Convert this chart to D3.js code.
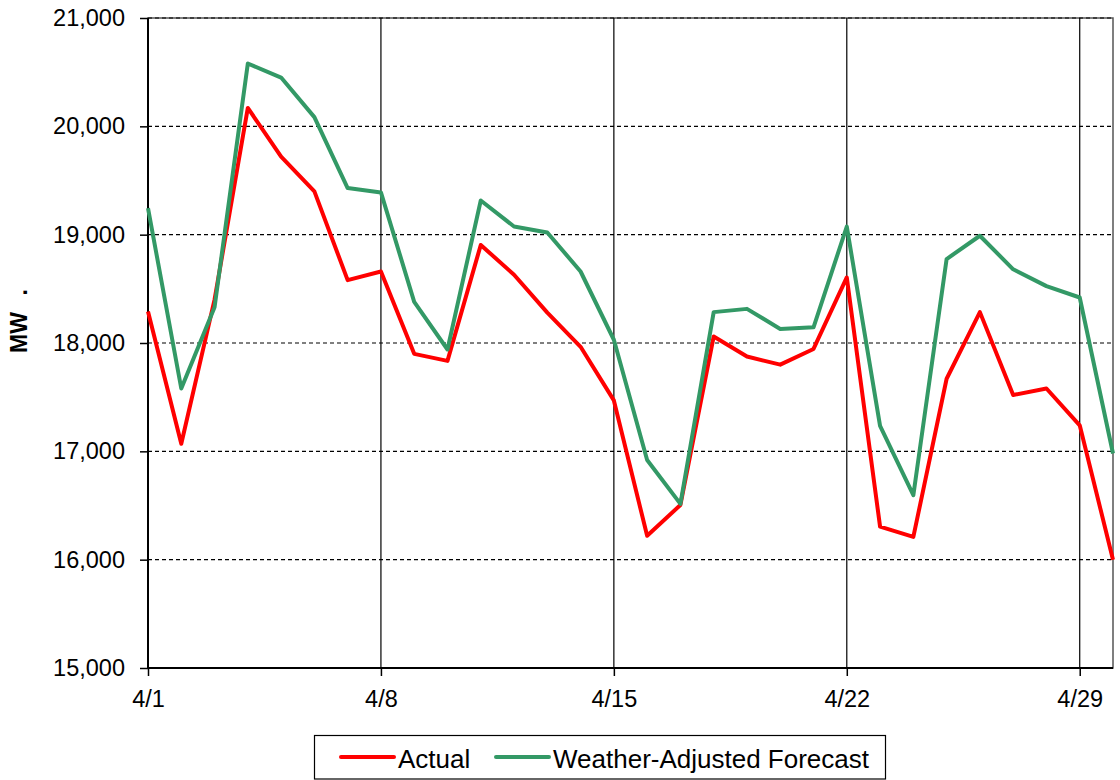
<!DOCTYPE html>
<html>
<head>
<meta charset="utf-8">
<script src="https://cdn.jsdelivr.net/npm/d3@7"></script>
<style>
  body { margin: 0; background: #fff; }
  text { font-family: "Liberation Sans", Arial, sans-serif; fill: #000; }
</style>
</head>
<body>
<svg id="chart" width="1120" height="780"></svg>
<script>
// April, one value per day
const days = ["4/1","4/2","4/3","4/4","4/5","4/6","4/7","4/8","4/9","4/10",
  "4/11","4/12","4/13","4/14","4/15","4/16","4/17","4/18","4/19","4/20",
  "4/21","4/22","4/23","4/24","4/25","4/26","4/27","4/28","4/29","4/30"];

const actual = [18290, 17070, 18400, 20170, 19720, 19400, 18580, 18660, 17900, 17835,
  18905, 18630, 18280, 17965, 17470, 16220, 16505, 18060, 17875, 17800,
  17945, 18605, 16305, 16210, 17670, 18285, 17520, 17580, 17240, 16000];

const forecast = [19245, 17580, 18330, 20580, 20450, 20085, 19430, 19390, 18380, 17940,
  19315, 19075, 19020, 18660, 18030, 16920, 16515, 18285, 18315, 18130,
  18145, 19075, 17235, 16595, 18775, 18990, 18680, 18525, 18420, 16980];

const xTickDays = ["4/1", "4/8", "4/15", "4/22", "4/29"];
const yTicks = [15000, 16000, 17000, 18000, 19000, 20000, 21000];

const series = [
  {name: "Actual", values: actual, color: "#ff0000"},
  {name: "Weather-Adjusted Forecast", values: forecast, color: "#339966"}
];

const margin = {left: 148, right: 7, top: 18, bottom: 112};
const width = 1120 - margin.left - margin.right;
const height = 780 - margin.top - margin.bottom;

const svg = d3.select("#chart");
const g = svg.append("g")
    .attr("transform", "translate(" + margin.left + "," + margin.top + ")");

const x = d3.scaleLinear()
    .domain([0, days.length - 1])
    .range([0, width]);

const y = d3.scaleLinear()
    .domain([15000, 21000])
    .range([height, 0]);

const xTickIdx = xTickDays.map(d => days.indexOf(d));

// plot frame
g.append("rect")
    .attr("width", width)
    .attr("height", height)
    .attr("fill", "none")
    .attr("stroke", "#555")
    .attr("stroke-width", 1.5);

// vertical grid (solid)
g.append("g")
    .selectAll("line")
    .data(xTickIdx.slice(1))
    .join("line")
    .attr("x1", d => x(d)).attr("x2", d => x(d))
    .attr("y1", 0).attr("y2", height)
    .attr("stroke", "#000")
    .attr("stroke-width", 1.2);

// horizontal grid (dashed)
g.append("g")
    .selectAll("line")
    .data(yTicks.slice(1))
    .join("line")
    .attr("x1", 0).attr("x2", width)
    .attr("y1", d => y(d)).attr("y2", d => y(d))
    .attr("stroke", "#000")
    .attr("stroke-width", 1.2)
    .attr("stroke-dasharray", "4,3");

// axes
const yAxis = d3.axisLeft(y)
    .tickValues(yTicks)
    .tickFormat(d3.format(","))
    .tickSize(8)
    .tickPadding(15);

const xAxis = d3.axisBottom(x)
    .tickValues(xTickIdx)
    .tickFormat(i => days[i])
    .tickSize(8)
    .tickPadding(14);

const ya = g.append("g").call(yAxis);
const xa = g.append("g").attr("transform", "translate(0," + height + ")").call(xAxis);

[ya, xa].forEach(a => {
  a.select(".domain").attr("stroke", "#000").attr("stroke-width", 2);
  a.selectAll(".tick line").attr("stroke", "#000").attr("stroke-width", 1.5);
  a.selectAll(".tick text")
      .style("font-family", "'Liberation Sans', Arial, sans-serif")
      .style("font-size", "23.5px")
      .attr("fill", "#000");
});
xa.select(".domain").attr("d", "M0,0H" + width);
ya.select(".domain").attr("d", "M0,0V" + height);

// lines
const line = d3.line()
    .x((d, i) => x(i))
    .y(d => y(d));

g.append("g")
    .selectAll("path")
    .data(series)
    .join("path")
    .attr("d", d => line(d.values))
    .attr("fill", "none")
    .attr("stroke", d => d.color)
    .attr("stroke-width", 4)
    .attr("stroke-linejoin", "round");

// y-axis title
const yt = svg.append("text")
    .attr("transform", "translate(27,353) rotate(-90)")
    .style("font-size", "23px")
    .style("font-weight", "bold");
yt.append("tspan").text("MW");
yt.append("tspan").attr("dx", 18).text(".");

// legend
const legend = svg.append("g");
legend.append("rect")
    .attr("x", 314.5).attr("y", 735.5)
    .attr("width", 571).attr("height", 43.5)
    .attr("fill", "#fff")
    .attr("stroke", "#000")
    .attr("stroke-width", 1.2);

const legendX = [341, 496];
const item = legend.selectAll("g.item")
    .data(series)
    .join("g")
    .attr("class", "item")
    .attr("transform", (d, i) => "translate(" + legendX[i] + ",757)");

item.append("line")
    .attr("x1", 0).attr("x2", 53)
    .attr("stroke", d => d.color)
    .attr("stroke-width", 4)
    .attr("stroke-linecap", "round");

item.append("text")
    .attr("x", 57)
    .attr("y", 11)
    .style("font-size", "26px")
    .text(d => d.name);
</script>
</body>
</html>
